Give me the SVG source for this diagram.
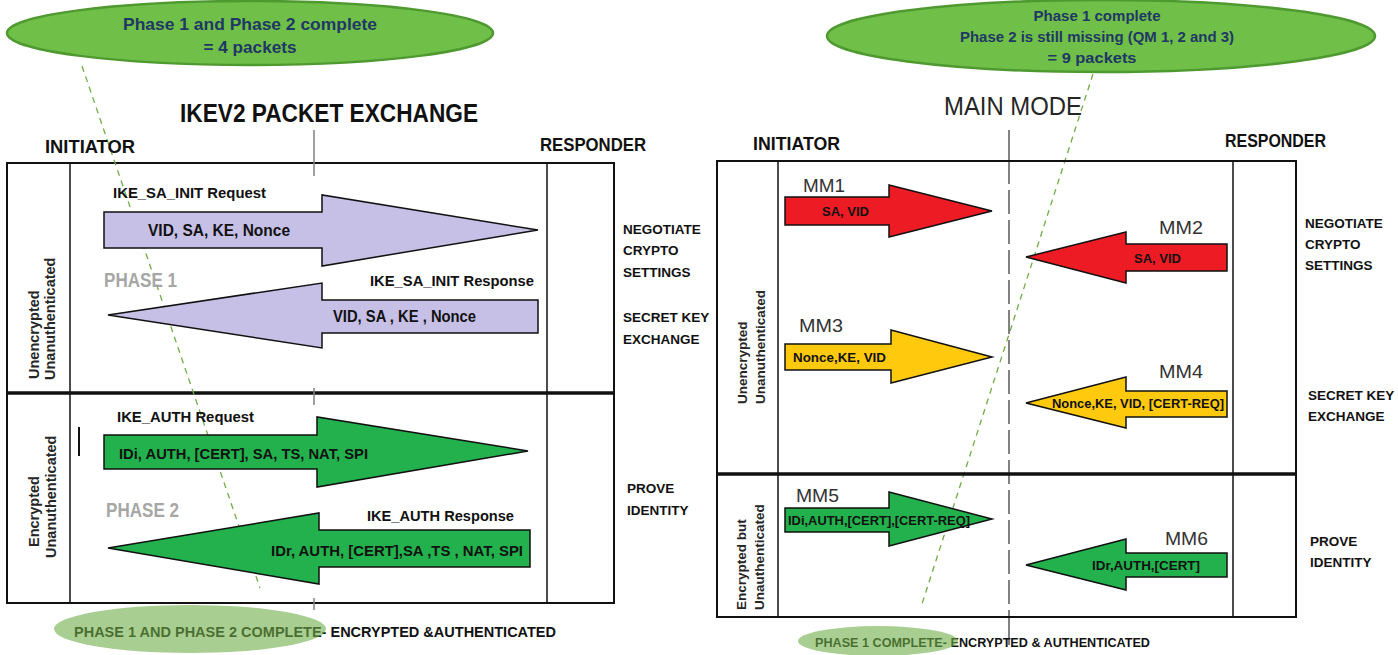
<svg xmlns="http://www.w3.org/2000/svg" width="1398" height="655" viewBox="0 0 1398 655">
<style>
text{font-family:"Liberation Sans",Arial,sans-serif;}
.b{font-weight:bold;}
.hdr{font-weight:bold;font-size:18px;fill:#111;}
.lbl{font-weight:bold;font-size:15px;fill:#111;}
.msg{font-weight:bold;font-size:16px;fill:#111;}
.side{font-weight:bold;font-size:13.5px;fill:#111;}
.rot{font-weight:bold;font-size:14.5px;fill:#262626;}
.rotr{font-weight:bold;font-size:13.5px;fill:#262626;}
.mm{font-size:18px;fill:#333;}
.mmt{font-weight:bold;font-size:12.5px;fill:#111;}
.phase{font-weight:bold;font-size:20px;fill:#a6a6a6;}
.ell{fill:#70bf48;stroke:#4f9a30;stroke-width:2.5;}
.elltxt{font-weight:bold;fill:#1f3864;}
.box{fill:none;stroke:#111;stroke-width:2;}
.thin{stroke:#111;stroke-width:1.5;}
.div{stroke:#111;stroke-width:3.5;}
.purple{fill:#c6bfe6;stroke:#111;stroke-width:1.5;}
.green{fill:#22b14c;stroke:#111;stroke-width:1.5;}
.red{fill:#ed1c24;stroke:#111;stroke-width:1.5;}
.yellow{fill:#ffc90e;stroke:#111;stroke-width:1.5;}
.gdash{stroke:#70ad47;stroke-width:1.3;stroke-dasharray:6 5;fill:none;}
.glight{fill:#70ad47;opacity:0.6;}
</style>
<rect width="1398" height="655" fill="#fff"/>

<!-- LEFT PANEL -->
<g id="left-frame">
  <rect class="box" x="7" y="163" width="607" height="440"/>
  <line class="thin" x1="70" y1="163" x2="70" y2="603"/>
  <line class="thin" x1="547" y1="163" x2="547" y2="603"/>
  <line class="div" x1="7" y1="393" x2="614" y2="393"/>
</g>

<g id="connectors">
  <line class="gdash" x1="82" y1="66" x2="260" y2="588"/>
  <line class="gdash" x1="1093" y1="74" x2="921" y2="607"/>
  <g stroke="#808080" stroke-width="1.5">
    <line x1="314" y1="130" x2="314" y2="176"/>
    <line x1="314" y1="388" x2="314" y2="405"/>
    <line x1="314" y1="598" x2="314" y2="610"/>
  </g>
  <line x1="1009" y1="130" x2="1009" y2="160" stroke="#404040" stroke-width="1.3"/>
  <line x1="1009" y1="160" x2="1009" y2="617" stroke="#404040" stroke-width="1.3" stroke-dasharray="24 6"/>
  <line x1="1009" y1="617" x2="1009" y2="645" stroke="#404040" stroke-width="1.3"/>
</g>

<g id="left-top-ellipse">
  <ellipse class="ell" cx="250" cy="33" rx="243" ry="32"/>
  <text class="elltxt" x="250" y="30" font-size="17" text-anchor="middle" textLength="254" lengthAdjust="spacingAndGlyphs">Phase 1 and Phase 2 complete</text>
  <text class="elltxt" x="250" y="53" font-size="17" text-anchor="middle" textLength="93" lengthAdjust="spacingAndGlyphs">= 4 packets</text>
</g>

<g id="left-headers">
  <text class="b" x="180" y="122" font-size="26" fill="#111" textLength="298" lengthAdjust="spacingAndGlyphs">IKEV2 PACKET EXCHANGE</text>
  <text class="hdr" x="45" y="153" textLength="90" lengthAdjust="spacingAndGlyphs">INITIATOR</text>
  <text class="hdr" x="540" y="151" textLength="106" lengthAdjust="spacingAndGlyphs">RESPONDER</text>
</g>

<g id="left-row-labels">
  <text class="rot" transform="translate(39,379) rotate(-90)">Unencrypted</text>
  <text class="rot" transform="translate(55,380) rotate(-90)">Unanuthenticated</text>
  <text class="rot" transform="translate(39,547) rotate(-90)">Encrypted</text>
  <text class="rot" transform="translate(56,558) rotate(-90)">Unanuthenticated</text>
</g>

<g id="ike-sa-init-request">
  <text class="lbl" x="113" y="198" textLength="153" lengthAdjust="spacingAndGlyphs">IKE_SA_INIT Request</text>
  <polygon class="purple" points="104,212 322,212 322,195 538,230 322,266 322,248 104,248"/>
  <text class="msg" x="148" y="236" textLength="142" lengthAdjust="spacingAndGlyphs">VID, SA, KE, Nonce</text>
</g>

<g id="phase1-label">
  <text class="phase" x="104" y="287" textLength="73" lengthAdjust="spacingAndGlyphs">PHASE 1</text>
</g>

<g id="ike-sa-init-response">
  <text class="lbl" x="370" y="286" textLength="164" lengthAdjust="spacingAndGlyphs">IKE_SA_INIT Response</text>
  <polygon class="purple" points="538,300 322,300 322,283 108,315 322,348 322,333 538,333"/>
  <text class="msg" x="333" y="322" textLength="143" lengthAdjust="spacingAndGlyphs">VID, SA , KE , Nonce</text>
</g>

<g id="left-side-notes">
  <text class="side" x="623" y="234">NEGOTIATE</text>
  <text class="side" x="623" y="255">CRYPTO</text>
  <text class="side" x="623" y="277">SETTINGS</text>
  <text class="side" x="623" y="322">SECRET KEY</text>
  <text class="side" x="623" y="344">EXCHANGE</text>
  <text class="side" x="627" y="493">PROVE</text>
  <text class="side" x="627" y="515">IDENTITY</text>
</g>

<g id="ike-auth-request">
  <text class="lbl" x="117" y="422" textLength="137" lengthAdjust="spacingAndGlyphs">IKE_AUTH Request</text>
  <line x1="79" y1="427" x2="79" y2="456" stroke="#111" stroke-width="2"/>
  <polygon class="green" points="104,435 317,435 317,417 528,451 317,487 317,469 104,469"/>
  <text class="lbl" x="119" y="459" textLength="249" lengthAdjust="spacingAndGlyphs">IDi, AUTH, [CERT], SA, TS, NAT, SPI</text>
</g>

<g id="phase2-label">
  <text class="phase" x="106" y="517" textLength="73" lengthAdjust="spacingAndGlyphs">PHASE 2</text>
</g>

<g id="ike-auth-response">
  <text class="lbl" x="367" y="521" textLength="147" lengthAdjust="spacingAndGlyphs">IKE_AUTH Response</text>
  <polygon class="green" points="530,530 319,530 319,513 108,548 319,584 319,567 530,567"/>
  <text class="lbl" x="271" y="556" textLength="252" lengthAdjust="spacingAndGlyphs">IDr, AUTH, [CERT],SA ,TS , NAT, SPI</text>
</g>

<g id="left-complete">
  <text class="lbl" x="74" y="637" textLength="482" lengthAdjust="spacingAndGlyphs">PHASE 1 AND PHASE 2 COMPLETE- ENCRYPTED &amp;AUTHENTICATED</text>
  <ellipse class="glight" cx="190" cy="629" rx="136" ry="24"/>
</g>

<!-- RIGHT PANEL -->
<g id="right-frame">
  <rect class="box" x="717" y="161" width="579" height="456"/>
  <line class="thin" x1="778" y1="161" x2="778" y2="617"/>
  <line class="thin" x1="1233" y1="161" x2="1233" y2="617"/>
  <line class="div" x1="717" y1="474" x2="1296" y2="474"/>
</g>

<g id="right-top-ellipse">
  <ellipse class="ell" cx="1101" cy="36" rx="274" ry="36"/>
  <text class="elltxt" x="1097" y="21" font-size="15" text-anchor="middle" textLength="127" lengthAdjust="spacingAndGlyphs">Phase 1 complete</text>
  <text class="elltxt" x="1097" y="42" font-size="15" text-anchor="middle" textLength="274" lengthAdjust="spacingAndGlyphs">Phase 2 is still missing (QM 1, 2 and 3)</text>
  <text class="elltxt" x="1092" y="63" font-size="15" text-anchor="middle" textLength="89" lengthAdjust="spacingAndGlyphs">= 9 packets</text>
</g>

<g id="right-headers">
  <text x="944" y="115" font-size="25" fill="#262626" textLength="138" lengthAdjust="spacingAndGlyphs">MAIN MODE</text>
  <text class="hdr" x="753" y="150" textLength="87" lengthAdjust="spacingAndGlyphs">INITIATOR</text>
  <text class="hdr" x="1225" y="147" textLength="101" lengthAdjust="spacingAndGlyphs">RESPONDER</text>
</g>

<g id="right-row-labels">
  <text class="rotr" transform="translate(747,404) rotate(-90)">Unencrypted</text>
  <text class="rotr" transform="translate(765,404) rotate(-90)">Unanuthenticated</text>
  <text class="rotr" transform="translate(746,610) rotate(-90)">Encrypted but</text>
  <text class="rotr" transform="translate(764,610) rotate(-90)">Unauthenticated</text>
</g>

<g id="mm1">
  <text class="mm" x="803" y="192" textLength="42" lengthAdjust="spacingAndGlyphs">MM1</text>
  <polygon class="red" points="785,197 889,197 889,185 992,211 889,237 889,225 785,225"/>
  <text class="mmt" x="822" y="216" textLength="47" lengthAdjust="spacingAndGlyphs">SA, VID</text>
</g>

<g id="mm2">
  <text class="mm" x="1159" y="234" textLength="44" lengthAdjust="spacingAndGlyphs">MM2</text>
  <polygon class="red" points="1227,244 1126,244 1126,232 1026,257 1126,283 1126,271 1227,271"/>
  <text class="mmt" x="1134" y="263" textLength="47" lengthAdjust="spacingAndGlyphs">SA, VID</text>
</g>

<g id="mm3">
  <text class="mm" x="799" y="332" textLength="44" lengthAdjust="spacingAndGlyphs">MM3</text>
  <polygon class="yellow" points="785,344 891,344 891,330 992,357 891,383 891,370 785,370"/>
  <text class="mmt" x="793" y="362" textLength="93" lengthAdjust="spacingAndGlyphs">Nonce,KE, VID</text>
</g>

<g id="mm4">
  <text class="mm" x="1159" y="378" textLength="44" lengthAdjust="spacingAndGlyphs">MM4</text>
  <polygon class="yellow" points="1227,391 1126,391 1126,377 1026,403 1126,428 1126,417 1227,417"/>
  <text class="mmt" x="1052" y="408" textLength="172" lengthAdjust="spacingAndGlyphs">Nonce,KE, VID, [CERT-REQ]</text>
</g>

<g id="right-side-notes">
  <text class="side" x="1305" y="228">NEGOTIATE</text>
  <text class="side" x="1305" y="249">CRYPTO</text>
  <text class="side" x="1305" y="270">SETTINGS</text>
  <text class="side" x="1308" y="400">SECRET KEY</text>
  <text class="side" x="1308" y="421">EXCHANGE</text>
  <text class="side" x="1310" y="546">PROVE</text>
  <text class="side" x="1310" y="567">IDENTITY</text>
</g>

<g id="mm5">
  <text class="mm" x="796" y="502" textLength="43" lengthAdjust="spacingAndGlyphs">MM5</text>
  <polygon class="green" points="785,508 889,508 889,492 992,519 889,546 889,532 785,532"/>
  <text class="mmt" x="788" y="525" textLength="182" lengthAdjust="spacingAndGlyphs">IDi,AUTH,[CERT],[CERT-REQ]</text>
</g>

<g id="mm6">
  <text class="mm" x="1165" y="545" textLength="43" lengthAdjust="spacingAndGlyphs">MM6</text>
  <polygon class="green" points="1227,553 1126,553 1126,539 1026,565 1126,590 1126,577 1227,577"/>
  <text class="mmt" x="1092" y="570" textLength="108" lengthAdjust="spacingAndGlyphs">IDr,AUTH,[CERT]</text>
</g>

<g id="right-complete">
  <text class="side" x="815" y="647" textLength="335" lengthAdjust="spacingAndGlyphs">PHASE 1 COMPLETE- ENCRYPTED &amp; AUTHENTICATED</text>
  <ellipse class="glight" cx="878" cy="641" rx="80" ry="15"/>
</g>
</svg>
